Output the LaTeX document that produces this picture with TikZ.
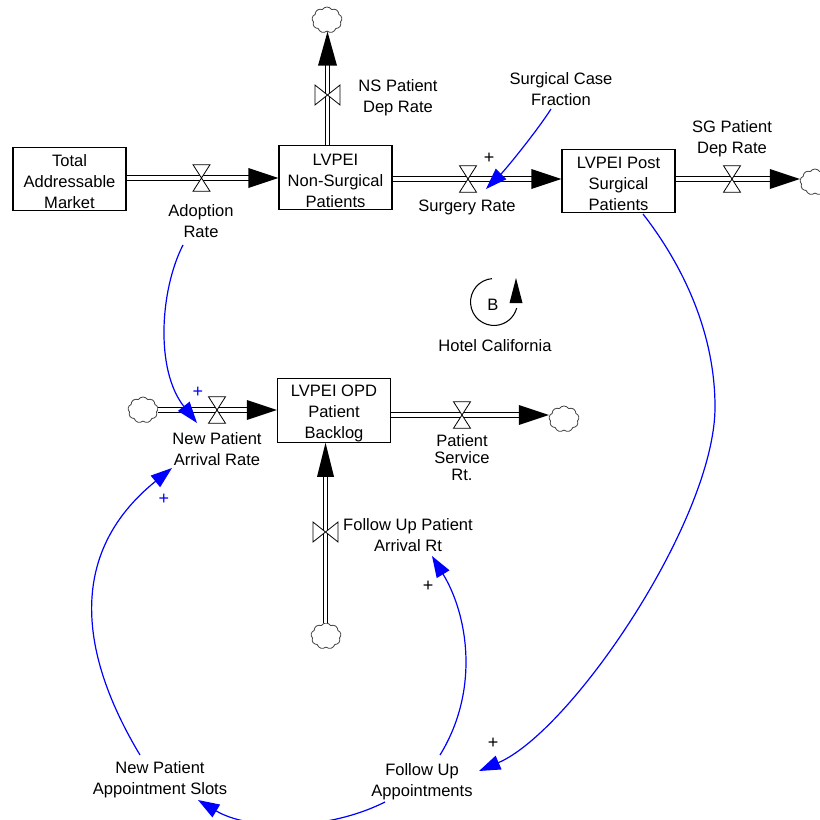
\documentclass[tikz,border=0pt]{standalone}
\usepackage{fontspec}
\setmainfont{Liberation Sans}
\usetikzlibrary{calc,arrows.meta,shapes.symbols}
\begin{document}
\begin{tikzpicture}[x=0.75pt,y=-0.75pt,
  lbl/.style={align=center,inner sep=0pt,yshift=-1.5pt,font=\fontsize{12.4}{15.75}\selectfont},
  tightlbl/.style={align=center,inner sep=0pt,font=\fontsize{12.4}{12.75}\selectfont},
  stock/.style={draw,line width=0.8pt,rectangle,minimum width=84.75pt,minimum height=47.5pt,inner sep=0pt,align=center,font=\fontsize{12.4}{15.75}\selectfont},
  cloudnode/.style={cloud,cloud puffs=9,cloud puff arc=115,draw=black!75,line width=0.6pt,inner sep=0pt,minimum width=22.5pt,minimum height=19.5pt},
  flowpipe/.style={draw=black,double=white,double distance=2.6pt,line width=0.85pt},
  valve/.style={fill=white,draw=black,line width=0.6pt},
  infl/.style={draw=blue,line width=0.9pt,-{Triangle[length=16pt,width=11pt]}},
  plus/.style={inner sep=0pt,font=\fontsize{13.5}{14}\selectfont},
  hvalve/.pic={\filldraw[valve] (-6.4pt,-10pt) -- (6.4pt,-10pt) -- (-6.4pt,10pt) -- (6.4pt,10pt) -- cycle;},
  vvalve/.pic={\filldraw[valve] (-9.4pt,-7.5pt) -- (-9.4pt,7.5pt) -- (9.4pt,-7.5pt) -- (9.4pt,7.5pt) -- cycle;}
]
\useasboundingbox (0,0) rectangle (820,820);

% stocks
\node[stock] (tam) at (69.5,179) {\rule{0pt}{13.5pt}Total\\Addressable\\Market};
\node[stock] (nsp) at (335.5,177.5) {\rule{0pt}{13.5pt}LVPEI\\Non-Surgical\\Patients};
\node[stock] (psp) at (618.5,181) {\rule{0pt}{13.5pt}LVPEI Post\\Surgical\\Patients};
\node[stock] (opd) at (334,410.5) {\rule{0pt}{13.5pt}LVPEI OPD\\Patient\\Backlog};

% clouds
\node[cloudnode] (c1) at (327,20) {};
\node[cloudnode] (c2) at (815,182) {};
\node[cloudnode] (c3) at (143,410) {};
\node[cloudnode] (c4) at (564,419) {};
\node[cloudnode] (c5) at (326,636) {};

% valve positions
\coordinate (av) at (201.5,178);
\coordinate (nsv) at (327.5,95);
\coordinate (sv) at (468,179);
\coordinate (sgv) at (732,179);
\coordinate (npv) at (217,410);
\coordinate (psv) at (462,415);
\coordinate (fuv) at (325.5,532);

% pipes
\draw[flowpipe] (tam.east |- av) -- ($(nsp.west |- av)+(-15,0)$);
\fill ($(nsp.west |- av)$) -- ++(-30,-10) -- ++(0,20) -- cycle;

\draw[flowpipe] (nsp.north -| nsv) -- ($(nsv |- c1.south)+(0,20)$);
\fill ($(nsv |- c1.south)$) -- ++(-9.5,34) -- ++(19,0) -- cycle;

\draw[flowpipe] (nsp.east |- sv) -- ($(psp.west |- sv)+(-15,0)$);
\fill ($(psp.west |- sv)$) -- ++(-30,-10) -- ++(0,20) -- cycle;

\draw[flowpipe] (psp.east |- sgv) -- ($(c2.west |- sgv)+(-15,0)$);
\fill ($(c2.west |- sgv)$) -- ++(-30,-10) -- ++(0,20) -- cycle;

\draw[flowpipe] (c3.east |- npv) -- ($(opd.west |- npv)+(-15,0)$);
\fill ($(opd.west |- npv)$) -- ++(-30,-10) -- ++(0,20) -- cycle;

\draw[flowpipe] (opd.east |- psv) -- ($(c4.west |- psv)+(-15,0)$);
\fill ($(c4.west |- psv)$) -- ++(-30,-10) -- ++(0,20) -- cycle;

\draw[flowpipe] (c5.north -| fuv) -- ($(opd.south -| fuv)+(0,18)$);
\fill ($(opd.south -| fuv)$) -- ++(-8.5,34) -- ++(17,0) -- cycle;

% valves
\pic at (av) {hvalve};
\pic at (sv) {hvalve};
\pic at (sgv) {hvalve};
\pic at (npv) {hvalve};
\pic at (psv) {hvalve};
\pic at (nsv) {vvalve};
\pic at (fuv) {vvalve};

% labels
\node[lbl] (adopt) at (201,219) {Adoption\\Rate};
\node[lbl] (nsdr) at (398,96) {NS Patient\\Dep Rate};
\node[lbl] (scf) at (561,87.5) {Surgical Case\\Fraction};
\node[lbl] (surg) at (467,205) {Surgery Rate};
\node[lbl] (sgdr) at (732,136.5) {SG Patient\\Dep Rate};
\node[lbl] (npar) at (217,447) {New Patient\\Arrival Rate};
\node[tightlbl] (psr) at (462,458) {Patient\\Service\\Rt.};
\node[lbl] (fupar) at (408,533.5) {Follow Up Patient\\Arrival Rt};
\node[lbl] (npas) at (160,778) {New Patient\\Appointment Slots};
\node[lbl] (fua) at (422,780) {Follow Up\\Appointments};
\node[lbl] (hc) at (495,344) {Hotel California};
\node[lbl] (loopB) at (493,303) {B};

% loop symbol
\draw[line width=0.8pt] ($(494,302)+(95:17.6pt)$) arc[start angle=95,end angle=345,radius=17.6pt];
\fill (516,278) -- (509.5,303) -- (522.5,303) -- cycle;

% influences
\draw[infl] ($(adopt.center)+(-18,24)$) .. controls +(-23,45) and +(-42,-53) .. ($(npar.center)+(-20,-26)$);
\draw[infl] ($(scf.center)+(-10,19.5)$) .. controls +(-14,22) and +(20,-20) .. ($(sv)+(18,10)$);
\draw[infl] ($(psp.center)+(24.5,33)$) .. controls +(35,45) and +(0,-80) .. (715,407)
   .. controls +(0,112) and +(93,-40) .. ($(fua.center)+(57,-11)$);
\draw[infl] ($(fua.center)+(18,-27)$) .. controls +(40,-65) and +(36,59) .. ($(fupar.center)+(24,20.5)$);
\draw[infl] ($(fua.center)+(-37,20)$) .. controls +(-60,30) and +(50,30) .. ($(npas.center)+(38,20)$);
\draw[infl] ($(npas.center)+(-20,-25)$) .. controls +(-45,-75) and +(-120,97) .. ($(npar.center)+(-45,19)$);

% polarities
\node[plus] (p1) at (489,158) {+};
\node[plus,text=blue] (p2) at (198,392) {+};
\node[plus,text=blue] (p3) at (164,499) {+};
\node[plus] (p4) at (428,586) {+};
\node[plus] (p5) at (493,743) {+};
\end{tikzpicture}
\end{document}
